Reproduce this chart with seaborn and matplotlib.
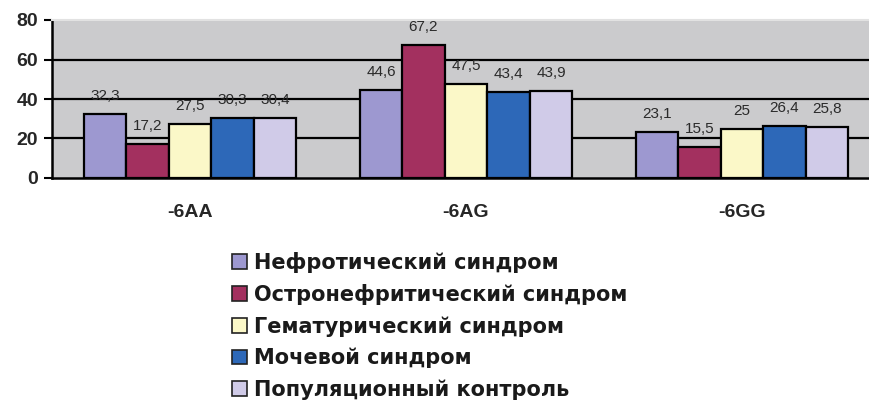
import matplotlib
matplotlib.use("Agg")
import matplotlib.pyplot as plt
import matplotlib.patches as mpatches
import seaborn as sns
import pandas as pd

# Genotype categories and study groups
genotypes = ["-6AA", "-6AG", "-6GG"]
groups = [
    "Нефротический синдром",
    "Остронефритический синдром",
    "Гематурический синдром",
    "Мочевой синдром",
    "Популяционный контроль",
]
nephrotic = [32.3, 44.6, 23.1]
nephritic = [17.2, 67.2, 15.5]
hematuric = [27.5, 47.5, 25.0]
urinary = [30.3, 43.4, 26.4]
control = [30.4, 43.9, 25.8]
y_ticks = [0, 20, 40, 60, 80]

colors = ["#9d98d0", "#a3305f", "#fbf8c8", "#2d68b8", "#d0cbe8"]

series = [nephrotic, nephritic, hematuric, urinary, control]
rows = []
for g, vals in zip(groups, series):
    for gt, v in zip(genotypes, vals):
        rows.append({"genotype": gt, "group": g, "value": v})
df = pd.DataFrame(rows)

sns.set_style("white")
plt.rcParams["font.family"] = ["Liberation Sans", "DejaVu Sans"]

fig = plt.figure(figsize=(8.69, 4.03), dpi=100)
ax = fig.add_axes([52 / 869, 225 / 403, 828 / 869, 158 / 403])
ax.set_facecolor("#cbcbcd")

sns.barplot(
    data=df, x="genotype", y="value", hue="group", hue_order=groups,
    order=genotypes, palette=colors, saturation=1, width=0.77, gap=0,
    edgecolor="black", linewidth=1.6, ax=ax, legend=False, zorder=3,
)

for cont in ax.containers:
    labels = [f"{b.get_height():g}".replace(".", ",") for b in cont]
    ax.bar_label(cont, labels=labels, padding=8, fontsize=11,
                 color="#2a2a2a", zorder=4)

ax.set_ylim(0, 80)
ax.set_xlim(-0.5, 2.5)
ax.set_yticks(y_ticks)
ax.set_yticklabels([str(t) for t in y_ticks], fontsize=14, fontweight="bold")
for y in [20, 40, 60]:
    ax.axhline(y, color="black", lw=1.6, zorder=1)

# category ticks sit on the group boundaries, labels in the middle
ax.set_xticks([0.5, 1.5], minor=False)
ax.set_xticklabels([])
ax.set_xticks([0, 1, 2], minor=True)
ax.set_xticklabels(genotypes, minor=True, fontsize=14, fontweight="bold")
ax.tick_params(axis="x", which="major", length=6, width=1.5, color="black", direction="out")
ax.tick_params(axis="x", which="minor", length=0, pad=19)
ax.tick_params(axis="y", length=6, width=1.5, color="black", direction="out", left=True, pad=4)
ax.set_xlabel("")
ax.set_ylabel("")

for side in ["left", "bottom"]:
    ax.spines[side].set_color("black")
    ax.spines[side].set_linewidth(1.8)
ax.spines["top"].set_color("#e2e2e2")
ax.spines["top"].set_linewidth(1.5)
ax.spines["right"].set_visible(False)

handles = [mpatches.Patch(facecolor=c, edgecolor="#222222", lw=1.2) for c in colors]
leg = fig.legend(
    handles, groups, loc="upper left", bbox_to_anchor=(232 / 869, 1 - 252 / 403),
    frameon=False, prop={"family": "DejaVu Sans", "weight": "bold", "size": 15},
    handlelength=0.7, handleheight=0.7, handletextpad=0.35, labelspacing=0.53,
    borderaxespad=0, borderpad=0,
)
for t in leg.get_texts():
    t.set_color("#1a1a1a")

fig.savefig("out.png", dpi=100)
